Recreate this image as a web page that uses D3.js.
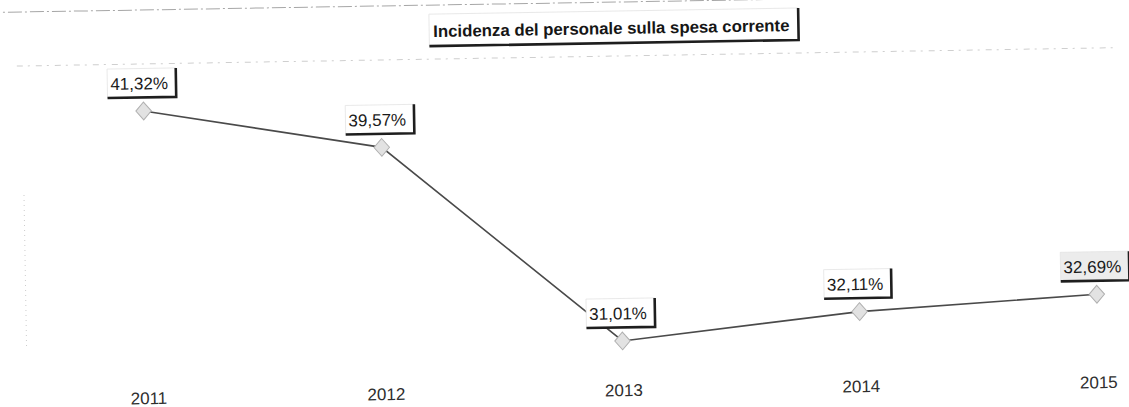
<!DOCTYPE html>
<html>
<head>
<meta charset="utf-8">
<script src="https://cdn.jsdelivr.net/npm/d3@7/dist/d3.min.js"></script>
<style>
  html, body { margin: 0; padding: 0; background: #ffffff; }
  svg { display: block; }
</style>
</head>
<body>
<script>
// Incidenza della spesa di personale sulla spesa corrente, 2011-2015
const years = ["2011", "2012", "2013", "2014", "2015"];
const incidenza = [41.32, 39.57, 31.01, 32.11, 32.69];
const valueLabels = ["41,32%", "39,57%", "31,01%", "32,11%", "32,69%"];
const title = "Incidenza del personale sulla spesa corrente";

const W = 1129, H = 407;
const svg = d3.select("body").append("svg")
  .attr("width", W).attr("height", H)
  .style("font-family", "Arial, 'Liberation Sans', sans-serif");

svg.append("rect").attr("width", W).attr("height", H).attr("fill", "#ffffff");

// the printed page sits slightly tilted
const g = svg.append("g").attr("transform", "rotate(-0.96 620 250)");

const x = d3.scalePoint().domain(years).range([146, 1096]);
const y = d3.scaleLinear().domain([30, 42]).range([364.3, 87.3]);

// faint frame lines of the chart area
g.append("line").attr("x1", -10).attr("x2", W + 10).attr("y1", 2).attr("y2", 2)
  .attr("stroke", "#8a8a8a").attr("stroke-width", 1).attr("stroke-dasharray", "14 3 2 3").attr("opacity", 0.75);
g.append("line").attr("x1", 20).attr("x2", W - 10).attr("y1", 56).attr("y2", 56)
  .attr("stroke", "#b0b0b0").attr("stroke-width", 1).attr("stroke-dasharray", "6 5 2 6").attr("opacity", 0.6);
g.append("line").attr("x1", 25).attr("x2", 25).attr("y1", 185).attr("y2", 340)
  .attr("stroke", "#b8b8b8").attr("stroke-width", 1).attr("stroke-dasharray", "1 4").attr("opacity", 0.7);

// title box
const titleG = g.append("g");
const tt = titleG.append("text")
  .attr("x", 615).attr("y", 34)
  .attr("text-anchor", "middle")
  .attr("font-size", 16.8).attr("font-weight", "bold").attr("fill", "#161616")
  .text(title);
const tb = tt.node().getBBox();
const tL = tb.x - 4, tR = tb.x + tb.width + 9, tT = 11, tB = 43;
titleG.insert("rect", "text")
  .attr("x", tL).attr("y", tT).attr("width", tR - tL).attr("height", tB - tT)
  .attr("fill", "#ffffff").attr("stroke", "#e2e2e2").attr("stroke-width", 0.8);
titleG.append("path")
  .attr("d", `M${tL},${tB} H${tR} V${tT}`)
  .attr("fill", "none").attr("stroke", "#1e1e1e").attr("stroke-width", 2.6);

// x axis labels (no axis line drawn)
const xAxis = d3.axisBottom(x).tickSize(0).tickPadding(0);
const ax = g.append("g").attr("transform", "translate(0,384)").call(xAxis);
ax.select(".domain").remove();
ax.attr("font-size", 17).attr("font-family", "Arial, 'Liberation Sans', sans-serif");
ax.selectAll("text")
  .attr("fill", "#2e2e2e")
  .attr("dy", "0.72em");

// series line
const pts = years.map((yr, i) => ({ yr, v: incidenza[i], lab: valueLabels[i], i }));
g.append("path")
  .datum(pts)
  .attr("fill", "none")
  .attr("stroke", "#4a4a4a")
  .attr("stroke-width", 1.6)
  .attr("d", d3.line().x(d => x(d.yr)).y(d => y(d.v)));

// diamond markers (square diamond, slightly taller than wide)
const squareDiamond = {
  draw(ctx, size) {
    const w = Math.sqrt(size) / 2, h = w * 1.15;
    ctx.moveTo(0, -h); ctx.lineTo(w, 0); ctx.lineTo(0, h); ctx.lineTo(-w, 0); ctx.closePath();
  }
};
g.selectAll(".mk").data(pts).enter().append("path")
  .attr("class", "mk")
  .attr("transform", d => `translate(${x(d.yr)},${y(d.v)})`)
  .attr("d", d3.symbol(squareDiamond, 240)())
  .attr("fill", "#e2e2e2").attr("stroke", "#b0b0b0").attr("stroke-width", 1);

// data labels with shadowed callout boxes
const lab = g.selectAll(".lab").data(pts).enter().append("g").attr("class", "lab");
lab.each(function(d) {
  const sel = d3.select(this);
  const cx = x(d.yr) - 4;
  const bottom = y(d.v) - 13.5;
  const t = sel.append("text")
    .attr("x", cx).attr("y", bottom - 8)
    .attr("text-anchor", "middle")
    .attr("font-size", 17).attr("fill", "#1a1a1a")
    .text(d.lab);
  const bb = t.node().getBBox();
  const L = bb.x - 3, R = bb.x + bb.width + 8, T = bottom - 29;
  sel.insert("rect", "text")
    .attr("x", L).attr("y", T).attr("width", R - L).attr("height", bottom - T)
    .attr("fill", d.i === pts.length - 1 ? "#ececec" : "#ffffff")
    .attr("stroke", "#e4e4e4").attr("stroke-width", 0.8);
  sel.append("path")
    .attr("d", `M${L},${bottom} H${R} V${T}`)
    .attr("fill", "none").attr("stroke", "#1e1e1e").attr("stroke-width", 2.6);
});
</script>
</body>
</html>
